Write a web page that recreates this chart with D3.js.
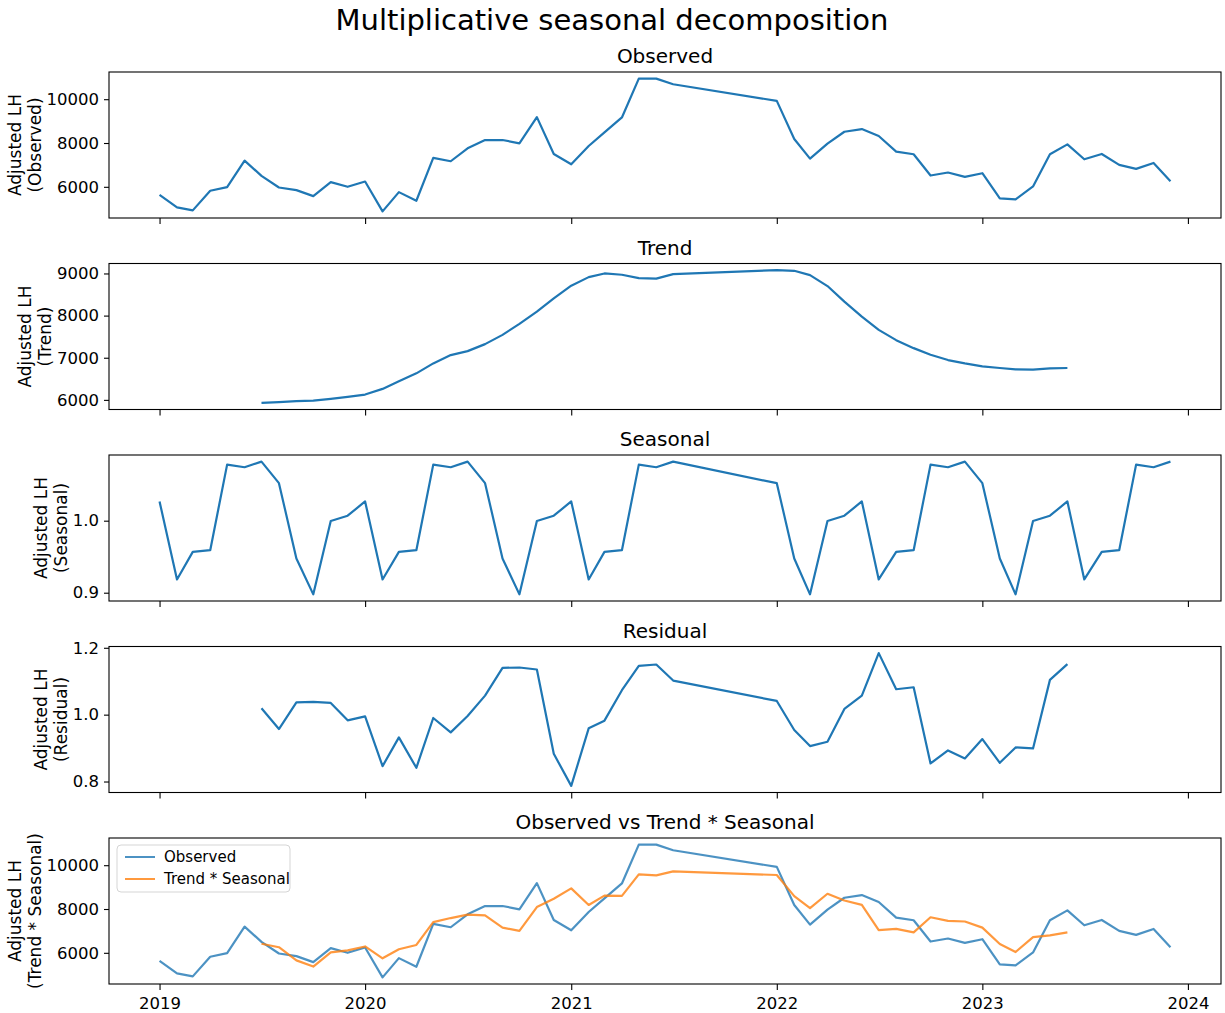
<!DOCTYPE html>
<html>
<head>
<meta charset="utf-8">
<script src="https://cdn.jsdelivr.net/npm/d3@7"></script>
<style>
  body { margin: 0; background: #fff; }
  svg { font-family: "DejaVu Sans", sans-serif; }
</style>
</head>
<body>
<svg id="chart" width="1225" height="1013"></svg>
<script>
/* ----------------------------- DATA ----------------------------- */

// monthly index, with a hole from Aug 2021 to Dec 2021
let months = d3.timeMonth.range(new Date(2019, 0, 1), new Date(2021, 7, 1))
    .concat(d3.timeMonth.range(new Date(2022, 0, 1), new Date(2024, 0, 1)))

let observed = [
    5636, 5061, 4924, 5818, 5985, 7197, 6500, 5970, 5848, 5576, 6212, 6000,
    6242, 4879, 5758, 5364, 7318, 7167, 7757, 8136, 8136, 7985, 9182, 7500,
    7030, 7863, 8485, 9167, 10939, 10939, 10682,
    9924, 8182, 7288, 7970, 8515, 8636, 8318, 7606, 7485, 6515, 6652, 6455,
    6621, 5470, 5424, 6015, 7485, 7939, 7257, 7500, 7000, 6818, 7091, 6258
]

let trend = [
    null, null, null, null, null, null,
    5929, 5945, 5969, 5984, 6024, 6071,
    6126, 6260, 6441, 6630, 6866, 7063, 7157, 7323, 7543, 7803, 8094, 8409,
    8709, 8913, 9000, 8969, 8890, 8878, 8984,
    9079, 9063, 8961, 8701, 8331, 7976, 7661, 7417, 7228, 7071, 6945, 6866,
    6795, 6756, 6724, 6717, 6748, 6756,
    null, null, null, null, null, null
]

let seasonal = [
    1.0267, 0.9184, 0.9567, 0.9590, 1.0779, 1.0742, 1.0820, 1.0521, 0.9475, 0.8977, 0.9995, 1.0069,
    1.0267, 0.9184, 0.9567, 0.9590, 1.0779, 1.0742, 1.0820, 1.0521, 0.9475, 0.8977, 0.9995, 1.0069,
    1.0267, 0.9184, 0.9567, 0.9590, 1.0779, 1.0742, 1.0820,
    1.0521, 0.9475, 0.8977, 0.9995, 1.0069, 1.0267, 0.9184, 0.9567, 0.9590, 1.0779, 1.0742, 1.0820,
    1.0521, 0.9475, 0.8977, 0.9995, 1.0069, 1.0267, 0.9184, 0.9567, 0.9590, 1.0779, 1.0742, 1.0820
]

let residual = [
    null, null, null, null, null, null,
    1.019, 0.957, 1.037, 1.038, 1.035, 0.983,
    0.995, 0.846, 0.932, 0.841, 0.990, 0.947, 0.996, 1.057, 1.140, 1.141, 1.135, 0.883,
    0.787, 0.959, 0.982, 1.073, 1.146, 1.150, 1.102,
    1.041, 0.954, 0.906, 0.919, 1.017, 1.057, 1.184, 1.076, 1.082, 0.854, 0.893, 0.869,
    0.927, 0.856, 0.902, 0.899, 1.104, 1.151,
    null, null, null, null, null, null
]

let trendSeasonal = [
    null, null, null, null, null, null,
    6415, 6255, 5656, 5372, 6021, 6113,
    6290, 5749, 6162, 6358, 7401, 7587, 7744, 7705, 7147, 7005, 8090, 8467,
    8942, 8186, 8610, 8601, 9583, 9537, 9721,
    9552, 8587, 8044, 8697, 8388, 8189, 7036, 7096, 6932, 7622, 7460, 7429,
    7149, 6401, 6036, 6714, 6795, 6936,
    null, null, null, null, null, null
]

let yearTicks = [2019, 2020, 2021, 2022, 2023, 2024]
let levelTicks = [6000, 8000, 10000]
let trendTicks = [6000, 7000, 8000, 9000]
let seasonalTicks = [0.9, 1.0]
let residualTicks = [0.8, 1.0, 1.2]

/* ----------------------------- LAYOUT ----------------------------- */

let svg = d3.select("#chart")
let left = 109, right = 1221
let top0 = 72, step = 191.5, panelH = 146
let blue = "#1f77b4", orange = "#ff7f0e"

let t0 = months[0].getTime(), t1 = months[months.length - 1].getTime()
let tPad = (t1 - t0) * 0.05
let x = d3.scaleTime()
    .domain([new Date(t0 - tPad), new Date(t1 + tPad)])
    .range([left, right])

let panels = [
    { title: "Observed", name: "(Observed)", ticks: levelTicks, fmt: d3.format("d"),
      series: [{ values: observed, color: blue }] },
    { title: "Trend", name: "(Trend)", ticks: trendTicks, fmt: d3.format("d"),
      series: [{ values: trend, color: blue }] },
    { title: "Seasonal", name: "(Seasonal)", ticks: seasonalTicks, fmt: d3.format(".1f"),
      series: [{ values: seasonal, color: blue }] },
    { title: "Residual", name: "(Residual)", ticks: residualTicks, fmt: d3.format(".1f"),
      series: [{ values: residual, color: blue }] },
    { title: "Observed vs Trend * Seasonal", name: "(Trend * Seasonal)", ticks: levelTicks, fmt: d3.format("d"),
      series: [{ values: observed, color: blue, label: "Observed", alpha: 0.8 },
               { values: trendSeasonal, color: orange, label: "Trend * Seasonal", alpha: 0.8 }] }
]

svg.append("text")
    .attr("x", 612).attr("y", 30)
    .attr("text-anchor", "middle")
    .attr("font-size", 29)
    .text("Multiplicative seasonal decomposition")

panels.forEach(function (p, i) {
    let top = top0 + i * step
    let bottom = top + panelH
    let g = svg.append("g")

    // y extent with matplotlib-like 5% margins
    let all = []
    p.series.forEach(function (s) { s.values.forEach(function (v) { if (v != null) all.push(v) }) })
    let lo = d3.min(all), hi = d3.max(all)
    let pad = (hi - lo) * 0.05
    let y = d3.scaleLinear().domain([lo - pad, hi + pad]).range([bottom, top])

    // y axis
    let yAxis = g.append("g")
        .attr("transform", "translate(" + left + ",0)")
        .call(d3.axisLeft(y).tickValues(p.ticks).tickFormat(p.fmt).tickSize(5).tickPadding(5))
    yAxis.select(".domain").remove()
    yAxis.selectAll("text").attr("font-size", 16.5).attr("fill", "#000").attr("font-family", "DejaVu Sans")
    yAxis.selectAll("line").attr("stroke", "#000").attr("stroke-width", 1.1)

    // x axis (labels only on bottom panel)
    let xAxis = g.append("g")
        .attr("transform", "translate(0," + bottom + ")")
        .call(d3.axisBottom(x)
            .tickValues(yearTicks.map(function (yr) { return new Date(yr, 0, 1) }))
            .tickFormat(i == panels.length - 1 ? d3.timeFormat("%Y") : "")
            .tickSize(6).tickPadding(7))
    xAxis.select(".domain").remove()
    xAxis.selectAll("text").attr("font-size", 16.5).attr("fill", "#000").attr("font-family", "DejaVu Sans")
    xAxis.selectAll("line").attr("stroke", "#000").attr("stroke-width", 1.1)

    // lines
    p.series.forEach(function (s) {
        let line = d3.line()
            .defined(function (d) { return d != null })
            .x(function (d, k) { return x(months[k]) })
            .y(function (d) { return y(d) })
        g.append("path")
            .datum(s.values)
            .attr("fill", "none")
            .attr("stroke", s.color)
            .attr("stroke-opacity", s.alpha || 1)
            .attr("stroke-width", 2.2)
            .attr("stroke-linejoin", "round")
            .attr("d", line)
    })

    // frame
    g.append("rect")
        .attr("x", left).attr("y", top)
        .attr("width", right - left).attr("height", panelH)
        .attr("fill", "none").attr("stroke", "#000").attr("stroke-width", 1.1)

    // title
    g.append("text")
        .attr("x", (left + right) / 2).attr("y", top - 9)
        .attr("text-anchor", "middle")
        .attr("font-size", 20)
        .text(p.title)

    // y label, placed next to widest tick label
    let labW = d3.max(yAxis.selectAll("text").nodes(), function (n) { return n.getComputedTextLength() })
    let lx = left - 5 - 5 - labW - 12
    let cy = (top + bottom) / 2
    let lines = ["Adjusted LH", p.name]
    lines.forEach(function (txt, j) {
        let px = lx - (1 - j) * 20
        g.append("text")
            .attr("transform", "translate(" + (px + 6) + "," + cy + ") rotate(-90)")
            .attr("text-anchor", "middle")
            .attr("font-size", 17)
            .text(txt)
    })

    // legend on last panel
    if (p.series.length > 1) {
        let lg = g.append("g").attr("transform", "translate(117," + (top + 7) + ")")
        lg.append("rect")
            .attr("width", 173).attr("height", 47).attr("rx", 4)
            .attr("fill", "#fff").attr("fill-opacity", 0.8)
            .attr("stroke", "#d5d5d5")
        p.series.forEach(function (s, k) {
            let ly = 12 + k * 22
            lg.append("line")
                .attr("x1", 8).attr("x2", 38).attr("y1", ly).attr("y2", ly)
                .attr("stroke", s.color).attr("stroke-opacity", s.alpha || 1).attr("stroke-width", 2)
            lg.append("text")
                .attr("x", 47).attr("y", ly + 5)
                .attr("font-size", 15)
                .text(s.label)
        })
    }
})
</script>
</body>
</html>
